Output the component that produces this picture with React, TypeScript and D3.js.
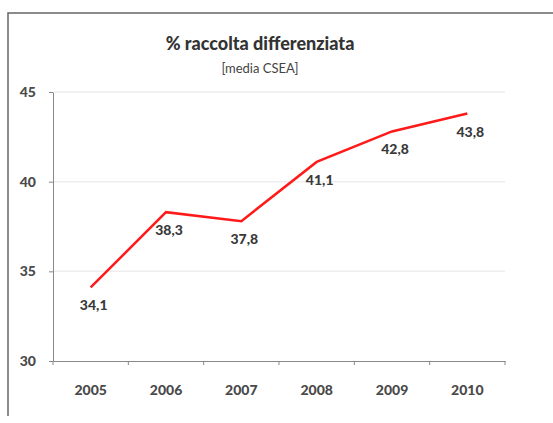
import React, { useEffect, useRef } from 'react';
import * as d3 from 'd3';

const years = ['2005', '2006', '2007', '2008', '2009', '2010'];
const values = [34.1, 38.3, 37.8, 41.1, 42.8, 43.8];
const yTicks = [30, 35, 40, 45];

const App = () => {
  const svgRef = useRef<SVGSVGElement>(null);

  useEffect(() => {
    const width = 553;
    const height = 423;
    const font = 'Lato, "Open Sans", sans-serif';

    const svg = d3.select(svgRef.current);
    svg.selectAll('*').remove();
    svg.attr('width', width).attr('height', height);

    // cornice esterna
    svg.append('path')
      .attr('d', 'M8,416 L8,13 L553,13')
      .attr('fill', 'none')
      .attr('stroke', '#666')
      .attr('stroke-width', 1.5);

    const x = d3.scaleBand().domain(years).range([53, 505]);
    const y = d3.scaleLinear().domain([30, 45]).range([361, 92]);

    // griglia
    svg.append('g')
      .selectAll('line')
      .data(yTicks.slice(1))
      .enter()
      .append('line')
      .attr('x1', 54)
      .attr('x2', 505)
      .attr('y1', d => y(d))
      .attr('y2', d => y(d))
      .attr('stroke', '#eeeeee')
      .attr('stroke-width', 1.5);

    // assi
    const yAxis = svg.append('g')
      .attr('transform', 'translate(53,0)')
      .call(d3.axisLeft(y).tickValues(yTicks).tickSize(4).tickSizeOuter(0).tickPadding(13));
    const xAxis = svg.append('g')
      .attr('transform', 'translate(0,361)')
      .call(d3.axisBottom(x).tickSize(0).tickSizeOuter(0).tickPadding(24));

    // tacche tra le categorie
    const bounds = [...years.map(d => x(d) as number), 505];
    xAxis.selectAll('.sep')
      .data(bounds)
      .enter()
      .append('line')
      .attr('x1', d => d)
      .attr('x2', d => d)
      .attr('y1', 0)
      .attr('y2', 4)
      .attr('stroke', '#888');

    [yAxis, xAxis].forEach(a => {
      a.select('.domain').attr('stroke', '#888');
      a.selectAll('.tick line').attr('stroke', '#888');
      a.selectAll('text')
        .attr('font-family', font)
        .attr('font-size', 14)
        .attr('font-weight', 900)
        .attr('fill', '#4a4a4a');
    });

    // linea
    const line = d3.line<number>()
      .x((d, i) => (x(years[i]) as number) + x.bandwidth() / 2)
      .y(d => y(d));

    svg.append('path')
      .datum(values)
      .attr('d', line)
      .attr('fill', 'none')
      .attr('stroke', '#ff1a1a')
      .attr('stroke-width', 2.5);

    // etichette
    svg.append('g')
      .selectAll('text')
      .data(values)
      .enter()
      .append('text')
      .attr('x', (d, i) => (x(years[i]) as number) + x.bandwidth() / 2 + 3)
      .attr('y', d => y(d) + 23)
      .attr('text-anchor', 'middle')
      .attr('font-family', font)
      .attr('font-size', 14)
      .attr('font-weight', 900)
      .attr('fill', '#3a3a3a')
      .text(d => String(d).replace('.', ','));

    // titolo
    svg.append('text')
      .attr('x', 260)
      .attr('y', 50)
      .attr('text-anchor', 'middle')
      .attr('font-family', font)
      .attr('font-size', 18)
      .attr('font-weight', 900)
      .attr('fill', '#333')
      .text('% raccolta differenziata');

    svg.append('text')
      .attr('x', 260)
      .attr('y', 73)
      .attr('text-anchor', 'middle')
      .attr('font-family', font)
      .attr('font-size', 13)
      .attr('fill', '#444')
      .text('[media CSEA]');
  }, []);

  return <svg ref={svgRef} style={{ position: 'absolute', left: 0, top: 0 }}></svg>;
};

export default App;
